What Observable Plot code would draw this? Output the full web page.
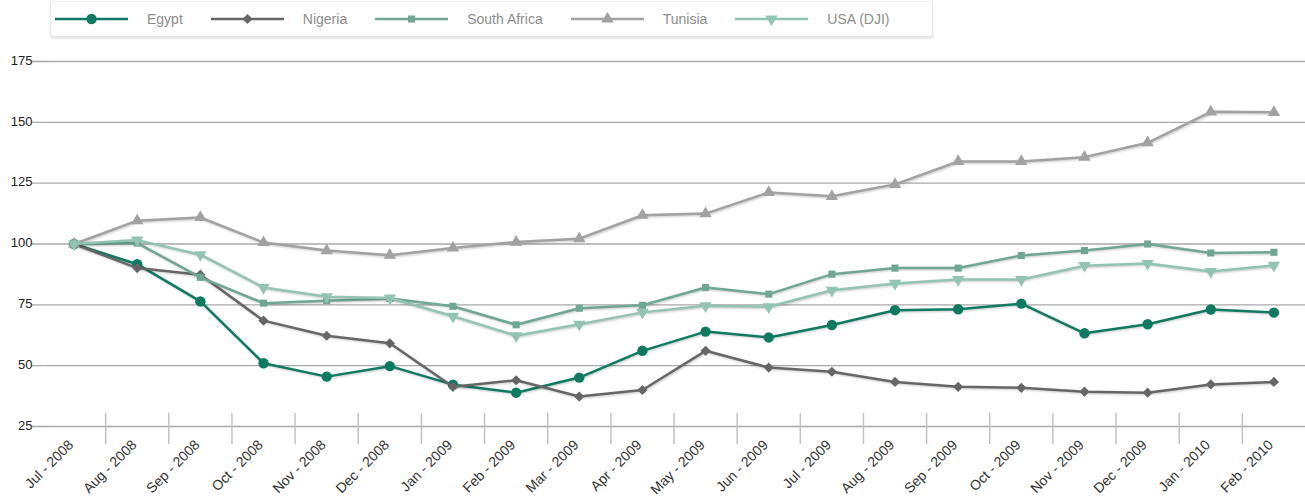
<!DOCTYPE html>
<html><head><meta charset="utf-8">
<script src="https://cdn.jsdelivr.net/npm/d3@7"></script>
<script src="https://cdn.jsdelivr.net/npm/@observablehq/plot@0.6"></script>
<style>
body{margin:0;background:#fff;font-family:"Liberation Sans",Arial,Helvetica,sans-serif;}
#legendwrap{position:relative;height:42px;}
#legend{position:absolute;left:50px;top:1px;width:883px;height:36px;border:1px solid #e6e6e6;border-top-color:#f2f2f2;border-radius:3px;box-shadow:0 2px 2px rgba(0,0,0,0.10);display:flex;align-items:center;padding-left:4px;box-sizing:border-box;}
.item{display:flex;align-items:center;margin-right:28px;}
.item span{margin-left:19px;font-size:14px;color:#8c8c8c;}
g[aria-label="line"] path{filter:drop-shadow(1px 1px 1px rgba(0,0,0,0.22));}
#chart svg{display:block;}
</style></head>
<body>
<div id="legendwrap"><div id="legend"></div></div>
<div id="chart"></div>
<script>
const months = ["Jul - 2008","Aug - 2008","Sep - 2008","Oct - 2008","Nov - 2008","Dec - 2008","Jan - 2009","Feb - 2009","Mar - 2009","Apr - 2009","May - 2009","Jun - 2009","Jul - 2009","Aug - 2009","Sep - 2009","Oct - 2009","Nov - 2009","Dec - 2009","Jan - 2010","Feb - 2010"];
const egypt = [100, 91.7, 76.4, 51.0, 45.5, 49.8, 42.2, 38.9, 45.1, 56.1, 64.0, 61.6, 66.7, 72.8, 73.2, 75.5, 63.3, 67.0, 73.1, 71.8];
const nigeria = [100, 90.1, 87.4, 68.5, 62.3, 59.2, 41.3, 44.0, 37.3, 40.0, 56.1, 49.2, 47.5, 43.3, 41.3, 40.9, 39.3, 38.9, 42.3, 43.3];
const southAfrica = [100, 100.4, 86.3, 75.7, 76.7, 77.6, 74.4, 66.8, 73.6, 74.8, 82.1, 79.4, 87.6, 90.1, 90.1, 95.3, 97.3, 100.0, 96.3, 96.6];
const tunisia = [100, 109.6, 110.9, 100.6, 97.3, 95.4, 98.4, 100.8, 102.2, 111.8, 112.5, 121.2, 119.6, 124.5, 133.9, 133.9, 135.7, 141.6, 154.3, 154.1];
const usa = [100, 101.6, 95.6, 82.1, 78.3, 77.8, 70.3, 62.3, 67.0, 71.9, 74.6, 74.2, 81.0, 83.8, 85.4, 85.4, 91.1, 92.0, 88.7, 91.2];
const yTicks = [25, 50, 75, 100, 125, 150, 175];
const seriesNames = ["Egypt", "Nigeria", "South Africa", "Tunisia", "USA (DJI)"];
const seriesColors = ["#0e7a62", "#666666", "#6fa794", "#a2a2a2", "#92c3b3"];

const triangleDown = {
  draw(context, size) {
    const s3 = Math.sqrt(3);
    const y = -Math.sqrt(size / (s3 * 3));
    context.moveTo(0, -y * 2);
    context.lineTo(-s3 * y, y);
    context.lineTo(s3 * y, y);
    context.closePath();
  }
};
const seriesSymbols = ["circle", "diamond2", "square", "triangle", triangleDown];
const seriesR = [5.2, 4.6, 4, 4.6, 4.6];
const seriesValues = [egypt, nigeria, southAfrica, tunisia, usa];

const series = seriesNames.map((name, k) => ({name, values: seriesValues[k], color: seriesColors[k], symbol: seriesSymbols[k], r: seriesR[k]}));

// legend
const legend = document.getElementById("legend");
series.forEach(s => {
  const item = document.createElement("div");
  item.className = "item";
  const d3sym = typeof s.symbol === "string" ? ({circle: d3.symbolCircle, diamond2: d3.symbolDiamond2, square: d3.symbolSquare, triangle: d3.symbolTriangle})[s.symbol] : s.symbol;
  const path = d3.symbol(d3sym, s.r * s.r * Math.PI)();
  item.innerHTML = `<svg width="73" height="14"><line x1="0" x2="73" y1="7" y2="7" stroke="${s.color}" stroke-width="2.5"/><path transform="translate(36.5,7)" d="${path}" fill="${s.color}"/></svg><span>${s.name}</span>`;
  legend.appendChild(item);
});

const idx = d3.range(months.length);
const marks = [
  Plot.ruleY(yTicks, {stroke: "#a9a9a9", strokeWidth: 1.3, insetLeft: -10}),
  Plot.ruleX(idx.slice(0, -1), {x: i => i + 0.5, y1: 25, y2: 25, insetTop: -13, insetBottom: -18, stroke: "#c2c2c2", strokeWidth: 1.5}),
  Plot.axisY(yTicks, {tickSize: 0, tickPadding: 10, fill: "#222", fontSize: 13, dy: -1}),
  Plot.axisX(idx, {tickFormat: i => months[i], tickRotate: -45, tickSize: 0, tickPadding: 16, dx: -3, fill: "#333", fontSize: 14})
];
series.forEach(s => {
  marks.push(Plot.line(s.values, {x: (d, i) => i, y: d => d, stroke: s.color, strokeWidth: 2.5}));
  marks.push(Plot.dot(s.values, {x: (d, i) => i, y: d => d, symbol: s.symbol, r: s.r, fill: s.color, stroke: "none"}));
});

const chart = Plot.plot({
  width: 1305, height: 454,
  marginLeft: 42, marginRight: 0, marginTop: 19, marginBottom: 70,
  x: {domain: [-0.5, months.length - 0.5], axis: null},
  y: {domain: [25, 175], axis: null},
  style: {fontFamily: '"Liberation Sans", Arial, Helvetica, sans-serif', fontSize: "13px", background: "white", overflow: "visible"},
  marks
});
document.getElementById("chart").appendChild(chart);
</script>
</body></html>
